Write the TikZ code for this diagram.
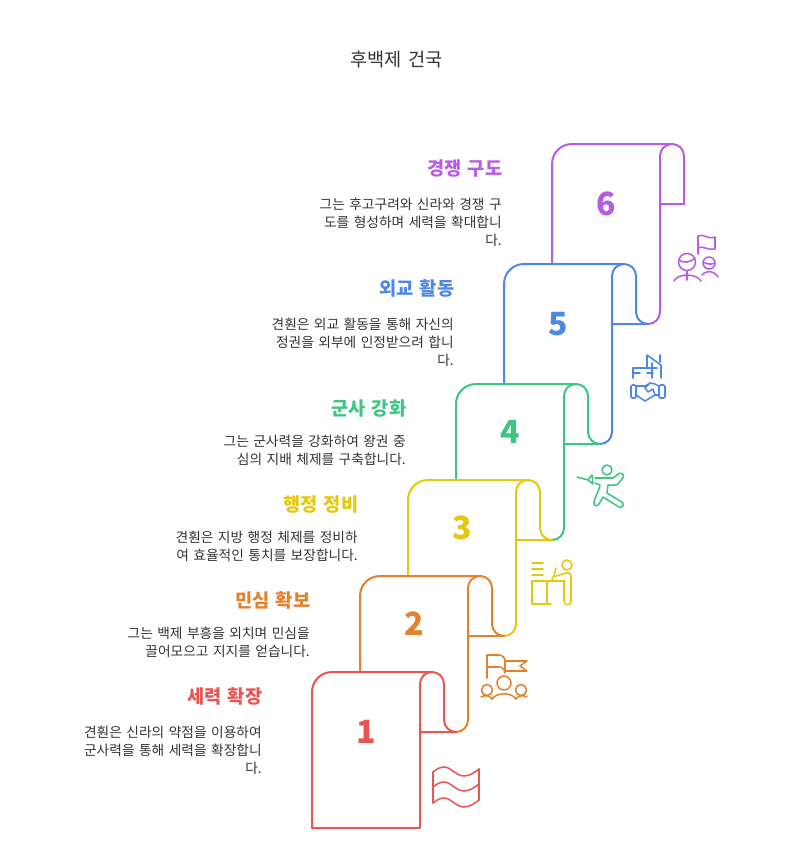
\documentclass[tikz,border=0pt]{standalone}
\usepackage{fontspec}
\setmainfont[WordSpace=1.45]{Noto Sans CJK KR}
\definecolor{redc}{HTML}{E85654}
\definecolor{orangec}{HTML}{E2812E}
\definecolor{yellowc}{HTML}{E4C80C}
\definecolor{greenc}{HTML}{3CC583}
\definecolor{bluec}{HTML}{4E88E7}
\definecolor{purplec}{HTML}{B75CE6}
\definecolor{textc}{HTML}{333333}
\tikzset{
  scrollline/.style={line width=1.5pt, line join=round},
  iconline/.style={line width=1.15pt, line cap=round, line join=round},
  titletext/.style={font=\fontsize{14}{17}\selectfont, text=textc, inner sep=0pt},
  headtext/.style={font=\fontsize{14}{17}\selectfont\bfseries, anchor=east, inner sep=0pt},
  bodytext/.style={font=\fontsize{10.3}{13.5}\selectfont, text=textc, anchor=north east, align=right, inner sep=0pt},
  numtext/.style={font=\fontsize{24}{28}\selectfont\bfseries, inner sep=0pt},
}
\begin{document}
\begin{tikzpicture}[x=0.75pt, y=-0.75pt]
    \useasboundingbox (0,0) rectangle (793,858);

    % 제목
    \node[titletext] (title) at (396.5,59.5) {후백제 건국};

    % 두루마리 6
    \draw[scrollline, purplec] (552,264) -- (552,164) arc[start angle=180, end angle=270, radius=20] -- (672,144) arc[start angle=270, end angle=360, radius=12] -- (684,204) -- (660,204);
    \draw[scrollline, purplec] (648,324) arc[start angle=90, end angle=0, radius=12] -- (660,156) arc[start angle=180, end angle=270, radius=12];

    % 두루마리 5
    \draw[scrollline, bluec] (504,384) -- (504,284) arc[start angle=180, end angle=270, radius=20] -- (624,264) arc[start angle=270, end angle=360, radius=12] -- (636,312) arc[start angle=180, end angle=90, radius=12] -- (612,324);
    \draw[scrollline, bluec] (600,444) arc[start angle=90, end angle=0, radius=12] -- (612,276) arc[start angle=180, end angle=270, radius=12];

    % 두루마리 4
    \draw[scrollline, greenc] (456,480) -- (456,404) arc[start angle=180, end angle=270, radius=20] -- (576,384) arc[start angle=270, end angle=360, radius=12] -- (588,432) arc[start angle=180, end angle=90, radius=12] -- (564,444);
    \draw[scrollline, greenc] (552,540) arc[start angle=90, end angle=0, radius=12] -- (564,396) arc[start angle=180, end angle=270, radius=12];

    % 두루마리 3
    \draw[scrollline, yellowc] (408,576) -- (408,500) arc[start angle=180, end angle=270, radius=20] -- (528,480) arc[start angle=270, end angle=360, radius=12] -- (540,528) arc[start angle=180, end angle=90, radius=12] -- (516,540);
    \draw[scrollline, yellowc] (504,636) arc[start angle=90, end angle=0, radius=12] -- (516,492) arc[start angle=180, end angle=270, radius=12];

    % 두루마리 2
    \draw[scrollline, orangec] (360,672) -- (360,596) arc[start angle=180, end angle=270, radius=20] -- (480,576) arc[start angle=270, end angle=360, radius=12] -- (492,624) arc[start angle=180, end angle=90, radius=12] -- (468,636);
    \draw[scrollline, orangec] (456,732) arc[start angle=90, end angle=0, radius=12] -- (468,588) arc[start angle=180, end angle=270, radius=12];

    % 두루마리 1
    \draw[scrollline, redc] (420,828) -- (312,828) -- (312,692) arc[start angle=180, end angle=270, radius=20] -- (432,672) arc[start angle=270, end angle=360, radius=12] -- (444,720) arc[start angle=180, end angle=90, radius=12] -- (420,732);
    \draw[scrollline, redc] (420,828) -- (420,684) arc[start angle=180, end angle=270, radius=12];

    % 번호
    \node[numtext, text=redc] (num1) at (366,732) {1};
    \node[numtext, text=orangec] (num2) at (414.5,624) {2};
    \node[numtext, text=yellowc] (num3) at (462.5,528) {3};
    \node[numtext, text=greenc] (num4) at (510.5,432) {4};
    \node[numtext, text=bluec] (num5) at (558.5,324) {5};
    \node[numtext, text=purplec] (num6) at (606.5,204) {6};

    % 제목과 설명
    \node[headtext, text=purplec] (head6) at (502.5,168.5) {경쟁 구도};
    \node[bodytext] (body6) at (502,197.5) {그는 후고구려와 신라와 경쟁 구\\도를 형성하며 세력을 확대합니\\다.};
    \node[headtext, text=bluec] (head5) at (454.5,288.5) {외교 활동};
    \node[bodytext] (body5) at (454,317.5) {견훤은 외교 활동을 통해 자신의\\정권을 외부에 인정받으려 합니\\다.};
    \node[headtext, text=greenc] (head4) at (406.5,408.5) {군사 강화};
    \node[bodytext] (body4) at (406,434.5) {그는 군사력을 강화하여 왕권 중\\심의 지배 체제를 구축합니다.};
    \node[headtext, text=yellowc] (head3) at (358.5,504.5) {행정 정비};
    \node[bodytext] (body3) at (358,530.5) {견훤은 지방 행정 체제를 정비하\\여 효율적인 통치를 보장합니다.};
    \node[headtext, text=orangec] (head2) at (310.5,600.5) {민심 확보};
    \node[bodytext] (body2) at (310,626.5) {그는 백제 부흥을 외치며 민심을\\끌어모으고 지지를 얻습니다.};
    \node[headtext, text=redc] (head1) at (262.5,696.5) {세력 확장};
    \node[bodytext] (body1) at (262,725.5) {견훤은 신라의 약점을 이용하여\\군사력을 통해 세력을 확장합니\\다.};

    % 아이콘 1: 물결 깃발
    \draw[iconline, redc] (433,772) -- (433,803);
    \draw[iconline, redc] (479,769) -- (479,800);
    \draw[iconline, redc] (433,772) .. controls (437,769) and (440,767) .. (444,767) .. controls (451,767) and (456,776) .. (464,776) .. controls (470,776) and (475,772) .. (479,769);
    \draw[iconline, redc] (433,787) .. controls (437,784) and (440,782) .. (444,782) .. controls (451,782) and (456,791) .. (464,791) .. controls (470,791) and (475,787) .. (479,784);
    \draw[iconline, redc] (433,803) .. controls (437,800) and (440,798) .. (444,798) .. controls (451,798) and (456,807) .. (464,807) .. controls (470,807) and (475,803) .. (479,800);

    % 아이콘 2: 깃발과 사람들
    \draw[iconline, orangec] (487,678) -- (487,655) -- (499,655) arc[start angle=270, end angle=360, radius=6] -- (505,671) -- (527,671) -- (520,666) -- (527,661) -- (505,661);
    \draw[iconline, orangec] (487,667) -- (499,667) arc[start angle=270, end angle=360, radius=6] -- (505,671);
    \draw[iconline, orangec] (504,683) circle[radius=7];
    \draw[iconline, orangec] (487,690) circle[radius=5.5];
    \draw[iconline, orangec] (521,690) circle[radius=5.5];
    \draw[iconline, orangec] (492,699) .. controls (497,692) and (511,692) .. (516,699);
    \draw[iconline, orangec] (481,697) .. controls (485,695) and (489,695) .. (492,699);
    \draw[iconline, orangec] (527,697) .. controls (523,695) and (519,695) .. (516,699);

    % 아이콘 3: 책상과 사람
    \draw[iconline, yellowc] (532,563) -- (543,563);
    \draw[iconline, yellowc] (532,569) -- (543,569);
    \draw[iconline, yellowc] (532,575) -- (543,575);
    \draw[iconline, yellowc] (565,581) -- (532,581) -- (532,604) -- (551,604);
    \draw[iconline, yellowc] (547,581) -- (547,604);
    \draw[iconline, yellowc] (567,565) circle[radius=5];
    \draw[iconline, yellowc] (553,581) .. controls (551,578) and (553,576) .. (556,576) -- (566,573) .. controls (570,572) and (571,574) .. (571,577) -- (571,601) .. controls (571,606) and (564,606) .. (564,601) -- (564,581);
    \draw[iconline, yellowc] (554,576) -- (556,568);

    % 아이콘 4: 펜싱
    \draw[iconline, greenc] (607,470) circle[radius=5];
    \draw[iconline, greenc] (577,477) -- (588,480);
    \draw[iconline, greenc] (588,480) -- (592,475) -- (593,484) -- cycle;
    \draw[iconline, greenc] (595,478) -- (613,478) -- (619,473.5) .. controls (623,472) and (625,476) .. (622,479) -- (618,484) .. controls (616,486) and (612,485) .. (608,485) -- (607,493) -- (622,502) .. controls (625,505) and (622,509) .. (619,507) -- (603,497) -- (599,504) .. controls (597,507) and (593,506) .. (594,502) .. controls (595,497) and (599,491) .. (600,485) -- (595,483);

    % 아이콘 5: 악수
    \draw[iconline, bluec] (647,368) -- (647,355) -- (661,365) -- (661,378);
    \draw[iconline, bluec] (660,355) -- (660,362);
    \draw[iconline, bluec] (652,363) -- (652,378);
    \draw[iconline, bluec] (633,378) -- (633,368) -- (657,368);
    \draw[iconline, bluec] (633,373) -- (640,373);
    \draw[iconline, bluec] (647,373) -- (653,373);
    \draw[iconline, bluec, rounded corners=1pt] (631,385) rectangle (636,398);
    \draw[iconline, bluec, rounded corners=1pt] (659,385) rectangle (665,398);
    \draw[iconline, bluec] (636,386) -- (645,386) -- (650,383) -- (655,384) -- (659,386);
    \draw[iconline, bluec] (636,395) -- (645,401) -- (655,395) -- (659,395);
    \draw[iconline, bluec] (650,383) -- (645,388) -- (648,392) -- (653,389) -- (655,395);

    % 아이콘 6: 사람과 깃발
    \draw[iconline, purplec] (687,262) circle[radius=8.5];
    \draw[iconline, purplec] (679,260) .. controls (684,264) and (691,262) .. (695,258);
    \draw[iconline, purplec] (687,271) -- (687,280);
    \draw[iconline, purplec] (674,281) .. controls (678,273) and (696,273) .. (701,281);
    \draw[iconline, purplec] (709,263) circle[radius=6];
    \draw[iconline, purplec] (703,262) .. controls (707,264) and (711,265) .. (715,263);
    \draw[iconline, purplec] (702,275) .. controls (707,270) and (713,270) .. (718,277);
    \draw[iconline, purplec] (698,254) -- (698,236) .. controls (703,233) and (708,240) .. (715,237) -- (715,249) .. controls (708,251) and (703,245) .. (698,248);
\end{tikzpicture}
\end{document}
